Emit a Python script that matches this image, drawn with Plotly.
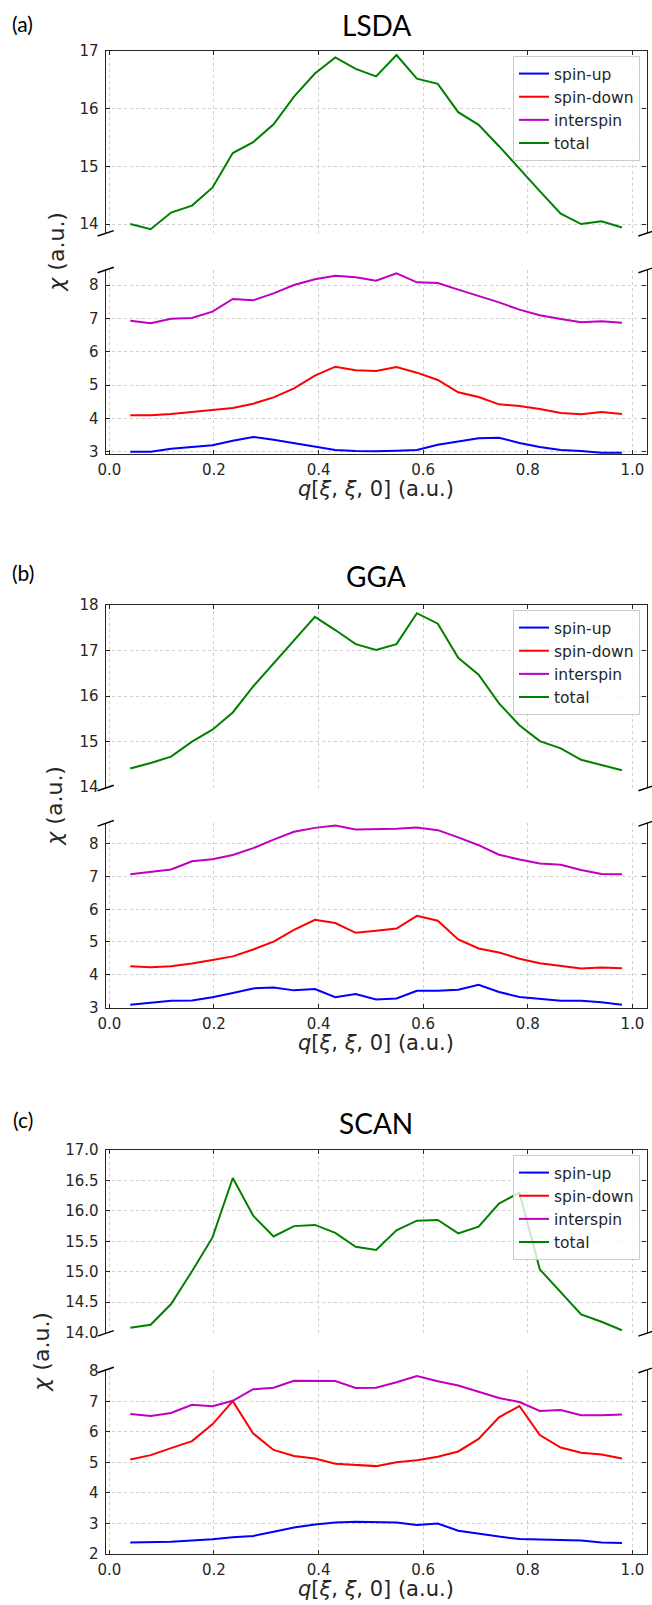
import plotly.graph_objects as go

# ---------------- data ----------------
q = [0.040, 0.079, 0.118, 0.158, 0.197, 0.236, 0.275, 0.314, 0.353, 0.393,
     0.432, 0.471, 0.510, 0.549, 0.588, 0.628, 0.667, 0.706, 0.745, 0.784,
     0.823, 0.863, 0.902, 0.941, 0.980]

lsda_up = [3.00, 3.00, 3.09, 3.14, 3.19, 3.33, 3.44, 3.36, 3.25, 3.14,
           3.05, 3.02, 3.01, 3.03, 3.05, 3.21, 3.31, 3.40, 3.42, 3.26,
           3.14, 3.05, 3.02, 2.97, 2.97]
lsda_down = [4.09, 4.09, 4.13, 4.18, 4.25, 4.31, 4.44, 4.63, 4.90, 5.28,
             5.55, 5.44, 5.42, 5.54, 5.37, 5.15, 4.78, 4.64, 4.42, 4.37,
             4.28, 4.16, 4.12, 4.19, 4.13]
lsda_inter = [6.93, 6.85, 6.99, 7.01, 7.20, 7.58, 7.54, 7.75, 8.00, 8.17,
              8.28, 8.23, 8.13, 8.35, 8.08, 8.06, 7.86, 7.68, 7.48, 7.26,
              7.09, 6.98, 6.88, 6.91, 6.87]
lsda_total = [14.00, 13.91, 14.20, 14.32, 14.63, 15.23, 15.42, 15.73, 16.21, 16.61,
              16.89, 16.69, 16.56, 16.93, 16.52, 16.43, 15.94, 15.72, 15.35, 14.95,
              14.57, 14.18, 14.00, 14.05, 13.94]

gga_up = [3.08, 3.15, 3.20, 3.21, 3.31, 3.44, 3.58, 3.61, 3.52, 3.56,
          3.31, 3.41, 3.24, 3.27, 3.51, 3.51, 3.54, 3.69, 3.47, 3.32,
          3.27, 3.20, 3.20, 3.16, 3.08]
gga_down = [4.26, 4.23, 4.26, 4.34, 4.45, 4.56, 4.77, 5.01, 5.37, 5.68,
            5.58, 5.28, 5.34, 5.41, 5.80, 5.65, 5.08, 4.80, 4.68, 4.49,
            4.35, 4.26, 4.19, 4.22, 4.20]
gga_inter = [7.07, 7.14, 7.22, 7.47, 7.53, 7.66, 7.87, 8.13, 8.37, 8.49,
             8.56, 8.44, 8.44, 8.46, 8.50, 8.42, 8.20, 7.96, 7.67, 7.52,
             7.40, 7.36, 7.20, 7.08, 7.07]
gga_total = [14.41, 14.53, 14.67, 15.00, 15.26, 15.64, 16.21, 16.72, 17.21, 17.74,
             17.45, 17.14, 17.01, 17.14, 17.82, 17.59, 16.84, 16.47, 15.84, 15.36,
             15.01, 14.85, 14.60, 14.49, 14.37]

scan_up = [2.38, 2.38, 2.40, 2.44, 2.48, 2.55, 2.59, 2.73, 2.87, 2.97,
           3.03, 3.06, 3.05, 3.03, 2.95, 3.00, 2.76, 2.66, 2.57, 2.49,
           2.48, 2.45, 2.44, 2.38, 2.36]
scan_down = [5.10, 5.24, 5.47, 5.70, 6.25, 7.01, 5.95, 5.41, 5.21, 5.13,
             4.96, 4.92, 4.88, 5.01, 5.07, 5.19, 5.36, 5.77, 6.48, 6.85,
             5.90, 5.49, 5.32, 5.26, 5.13]
scan_inter = [6.59, 6.52, 6.62, 6.89, 6.84, 7.02, 7.40, 7.45, 7.68, 7.68,
              7.67, 7.44, 7.45, 7.63, 7.83, 7.66, 7.52, 7.32, 7.11, 6.98,
              6.69, 6.72, 6.55, 6.55, 6.57]
scan_total = [14.08, 14.13, 14.47, 15.01, 15.56, 16.54, 15.92, 15.58, 15.75, 15.77,
              15.64, 15.41, 15.36, 15.68, 15.84, 15.85, 15.63, 15.74, 16.12, 16.30,
              15.04, 14.67, 14.30, 14.18, 14.04]

series_names = ["spin-up", "spin-down", "interspin", "total"]
series_colors = ["#0000ff", "#ff0000", "#bf00bf", "#008000"]
panel_labels = ["(a)", "(b)", "(c)"]
panel_titles = ["LSDA", "GGA", "SCAN"]
x_tick_vals = [0.0, 0.2, 0.4, 0.6, 0.8, 1.0]
x_tick_text = ["0.0", "0.2", "0.4", "0.6", "0.8", "1.0"]
upper_ticks = [[14, 15, 16, 17], [14, 15, 16, 17, 18],
               [14.0, 14.5, 15.0, 15.5, 16.0, 16.5, 17.0]]
lower_ticks = [[3, 4, 5, 6, 7, 8], [3, 4, 5, 6, 7, 8], [2, 3, 4, 5, 6, 7, 8]]
upper_ranges = [[13.84, 17.0], [13.98, 18.0], [13.99, 17.0]]
lower_ranges = [[2.93, 8.45], [2.99, 8.63], [2.0, 8.03]]

panels = [
    (lsda_up, lsda_down, lsda_inter, lsda_total),
    (gga_up, gga_down, gga_inter, gga_total),
    (scan_up, scan_down, scan_inter, scan_total),
]

# ---------------- layout geometry (pixels) ----------------
W, H = 652, 1605
box_left, box_right = 105.7, 646.5
# (upper_top, upper_bottom, lower_top, lower_bottom)
boxes = [(51, 233.3, 270, 454), (605, 788, 823.3, 1007.7), (1150, 1333.3, 1370, 1554)]
title_y = [25, 576, 1123]
label_y = [23, 572, 1119]
ytitle_x = [57, 55, 42]


def px(x):
    return x / W


def py(y):
    return 1 - y / H


fig = go.Figure()

FONT = "DejaVu Sans"
grid_col = "#cfcfcf"
spine_col = "#262626"
xr = [-0.007, 1.027]
legend_names = ["legend", "legend2", "legend3"]

layout = dict(
    width=W, height=H, margin=dict(l=0, r=0, t=0, b=0, pad=0, autoexpand=False),
    paper_bgcolor="white", plot_bgcolor="white",
    showlegend=True, font=dict(family=FONT, size=15, color="#262626"),
)
annotations = []
shapes = []

for p in range(3):
    ut, ub, lt, lb = boxes[p]
    ui = 2 * p + 1
    li = 2 * p + 2
    uname = "" if ui == 1 else str(ui)
    lname = str(li)
    xdom = [px(box_left), px(box_right)]
    common_x = dict(range=xr, domain=xdom, tickvals=x_tick_vals, ticktext=x_tick_text,
                    showgrid=True, gridcolor=grid_col, griddash="dot", gridwidth=1,
                    showline=True, linecolor=spine_col, linewidth=1.3,
                    ticks="inside", ticklen=4, tickcolor=spine_col, tickwidth=1.2,
                    zeroline=False, mirror=False, automargin=False)
    layout["xaxis" + uname] = dict(common_x, anchor="y" + uname, side="top",
                                   showticklabels=False)
    layout["xaxis" + lname] = dict(common_x, anchor="y" + lname, side="bottom",
                                   showticklabels=True, ticklabelstandoff=2,
                                   tickfont=dict(family=FONT, size=15, color="#262626"))
    common_y = dict(showgrid=True, gridcolor=grid_col, griddash="dot", gridwidth=1,
                    showline=True, linecolor=spine_col, linewidth=1.3, mirror="ticks",
                    ticks="inside", ticklen=4, tickcolor=spine_col, tickwidth=1.2,
                    zeroline=False, automargin=False, ticklabelstandoff=3,
                    tickfont=dict(family=FONT, size=15, color="#262626"))
    fmt_u = ".1f" if p == 2 else "d"
    layout["yaxis" + uname] = dict(common_y, anchor="x" + uname,
                                   domain=[py(ub), py(ut)], range=upper_ranges[p],
                                   tickvals=upper_ticks[p], tickformat=fmt_u)
    layout["yaxis" + lname] = dict(common_y, anchor="x" + lname,
                                   domain=[py(lb), py(lt)], range=lower_ranges[p],
                                   tickvals=lower_ticks[p], tickformat="d")

    lg = legend_names[p]
    vals = panels[p]
    for k in range(4):
        on_upper = (k == 3)
        fig.add_trace(go.Scatter(
            x=q, y=vals[k], mode="lines", name=series_names[k],
            line=dict(color=series_colors[k], width=2),
            xaxis="x" + (uname if on_upper else lname),
            yaxis="y" + (uname if on_upper else lname),
            legend=lg, showlegend=True,
        ))
    layout[lg] = dict(x=px(640), y=py(ut + 5), xanchor="right", yanchor="top",
                      bgcolor="rgba(255,255,255,0.8)", bordercolor="#cccccc",
                      borderwidth=1, font=dict(family=FONT, size=15.5, color="#262626"),
                      traceorder="normal", itemwidth=30)

    # break marks
    d = 0.015
    for xi in (0, 1):
        shapes.append(dict(type="line", xref="x" + uname + " domain",
                           yref="y" + uname + " domain",
                           x0=xi - d, x1=xi + d, y0=-d, y1=d,
                           line=dict(color="black", width=1.4)))
        shapes.append(dict(type="line", xref="x" + lname + " domain",
                           yref="y" + lname + " domain",
                           x0=xi - d, x1=xi + d, y0=1 - d, y1=1 + d,
                           line=dict(color="black", width=1.4)))

    annotations.append(dict(text=panel_labels[p], x=px(22.5), y=py(label_y[p]),
                            xref="paper", yref="paper", showarrow=False,
                            xanchor="center", yanchor="middle",
                            font=dict(family="Lato", size=21, color="black")))
    annotations.append(dict(text=panel_titles[p], x=px((box_left + box_right) / 2),
                            y=py(title_y[p]), xref="paper", yref="paper",
                            showarrow=False, xanchor="center", yanchor="middle",
                            font=dict(family="Lato", size=28, color="black")))
    annotations.append(dict(text="<i>χ</i> (a.u.)", x=px(ytitle_x[p]),
                            y=py((ub + lt) / 2), xref="paper", yref="paper",
                            showarrow=False, textangle=-90,
                            xanchor="center", yanchor="middle",
                            font=dict(family=FONT, size=22, color="#262626")))
    annotations.append(dict(text="<i>q</i>[<i>ξ</i>, <i>ξ</i>, 0] (a.u.)",
                            x=px((box_left + box_right) / 2), y=py(lb + 35),
                            xref="paper", yref="paper", showarrow=False,
                            xanchor="center", yanchor="middle",
                            font=dict(family=FONT, size=21, color="#262626")))

layout["annotations"] = annotations
layout["shapes"] = shapes
fig.update_layout(**layout)
fig.write_html("out.html",
               config={"displayModeBar": False},
               post_script="document.body.style.margin='0px';"
                           "document.body.style.overflow='hidden';")
